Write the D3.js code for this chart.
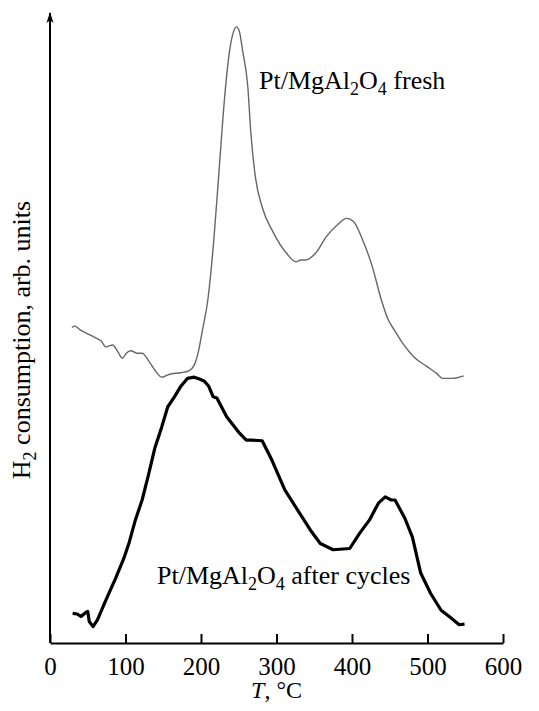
<!DOCTYPE html>
<html>
<head>
<meta charset="utf-8">
<script src="https://cdn.jsdelivr.net/npm/d3@7"></script>
<style>
  body { margin: 0; background: #fff; }
  text { font-family: "Liberation Serif", "Times New Roman", serif; fill: #000; }
</style>
</head>
<body>
<script>
var svgWidth = 539;
var svgHeight = 711;

// temperature (°C) and H2 consumption (arb. units)
var freshT = [29, 33, 40, 48, 61, 68, 74, 83, 90, 96, 101, 107, 115, 122, 130, 139, 148, 155, 160, 173, 184, 191, 197, 202, 209, 217, 224, 231, 238, 243, 247, 251, 255, 262, 266, 272, 281, 296, 313, 326, 332, 338, 352, 366, 380, 393, 402, 414, 427, 439, 448, 456, 467, 482, 499, 512, 520, 533, 548];
var freshH2 = [50.1, 50.3, 49.7, 49.2, 48.4, 47.9, 47.0, 47.3, 46.2, 45.2, 46.0, 46.4, 46.0, 46.0, 44.9, 43.3, 42.2, 42.5, 42.7, 42.9, 43.2, 44.1, 46.5, 49.7, 54.4, 64.0, 75.1, 86.2, 94.1, 97.0, 97.8, 97.0, 94.1, 88.3, 81.0, 74.0, 69.2, 65.1, 61.9, 60.5, 60.8, 60.8, 61.9, 64.5, 66.3, 67.4, 66.9, 64.0, 59.7, 54.4, 51.3, 49.7, 47.6, 45.4, 43.9, 42.8, 42.0, 42.0, 42.4];

var cycT = [30, 36, 41, 47, 50, 52, 57, 63, 74, 87, 98, 105, 113, 122, 130, 139, 148, 156, 165, 173, 182, 191, 198, 204, 210, 216, 221, 234, 251, 260, 268, 281, 294, 311, 328, 345, 358, 375, 397, 410, 423, 435, 444, 452, 457, 470, 480, 491, 504, 518, 530, 542, 549];
var cycH2 = [4.7, 4.6, 4.2, 4.8, 5.0, 3.4, 2.6, 3.7, 6.8, 10.3, 13.5, 16.0, 19.5, 22.7, 26.5, 31.0, 34.3, 37.5, 39.1, 40.7, 42.0, 42.2, 41.9, 41.6, 40.8, 39.1, 38.9, 35.9, 33.3, 32.2, 32.2, 32.1, 29.0, 24.3, 21.1, 17.9, 15.8, 14.8, 15.0, 17.4, 19.5, 22.2, 23.2, 22.7, 22.7, 19.8, 16.8, 11.1, 7.9, 5.2, 4.1, 2.9, 3.0];

var xTicks = [0, 100, 200, 300, 400, 500, 600];

var fresh = freshT.map((t, i) => ({t: t, v: freshH2[i]}));
var cycled = cycT.map((t, i) => ({t: t, v: cycH2[i]}));

var x = d3.scaleLinear().domain([0, 600]).range([50, 503]);
var y = d3.scaleLinear().domain([0, 100]).range([643, 13]);

var svg = d3.select("body").append("svg")
    .attr("width", svgWidth)
    .attr("height", svgHeight);

svg.append("rect").attr("width", svgWidth).attr("height", svgHeight).attr("fill", "#fff");

// arrow for the y axis
svg.append("defs").append("marker")
    .attr("id", "arrow")
    .attr("viewBox", "0 0 10 10")
    .attr("refX", 9).attr("refY", 5)
    .attr("markerWidth", 11).attr("markerHeight", 11)
    .attr("markerUnits", "userSpaceOnUse")
    .attr("orient", "auto")
  .append("path")
    .attr("d", "M0,1.8 L10,5 L0,8.2 L2.5,5 Z")
    .attr("fill", "#000");

svg.append("line")
    .attr("x1", x(0)).attr("y1", y(0))
    .attr("x2", x(0)).attr("y2", y(100))
    .attr("stroke", "#000")
    .attr("stroke-width", 2)
    .attr("marker-end", "url(#arrow)");

// x axis, ticks pointing up
var xAxis = d3.axisBottom(x)
    .tickValues(xTicks)
    .tickFormat(d3.format("d"))
    .tickSizeInner(-9)
    .tickSizeOuter(0)
    .tickPadding(0);

var gx = svg.append("g")
    .attr("transform", `translate(0, ${y(0)})`)
    .call(xAxis);

gx.select(".domain").attr("stroke", "#000").attr("stroke-width", 2.2);
gx.selectAll(".tick line").attr("stroke", "#000").attr("stroke-width", 2);
gx.selectAll(".tick text")
    .attr("y", 32)
    .attr("dy", null)
    .style("font-family", "Liberation Serif, Times New Roman, serif")
    .style("font-size", "25px");

// x title
var xt = svg.append("text")
    .attr("x", x(300))
    .attr("y", 698)
    .attr("text-anchor", "middle")
    .style("font-size", "24px");
xt.append("tspan").style("font-style", "italic").text("T");
xt.append("tspan").text(", °C");

// y title
var yt = svg.append("text")
    .attr("transform", "translate(30, 340) rotate(-90)")
    .attr("text-anchor", "middle")
    .style("font-size", "26px");
yt.append("tspan").text("H");
yt.append("tspan").attr("dy", 6).style("font-size", "18px").text("2");
yt.append("tspan").attr("dy", -6).text(" consumption, arb. units");

// curves
var line = d3.line()
    .x(d => x(d.t))
    .y(d => y(d.v))
    .curve(d3.curveMonotoneX);

svg.append("path")
    .datum(fresh)
    .attr("d", line)
    .attr("fill", "none")
    .attr("stroke", "#666")
    .attr("stroke-width", 1.4)
    .attr("stroke-linejoin", "round");

svg.append("path")
    .datum(cycled)
    .attr("d", line.curve(d3.curveLinear))
    .attr("fill", "none")
    .attr("stroke", "#000")
    .attr("stroke-width", 3.2)
    .attr("stroke-linejoin", "round");

// curve labels
function formula(g, px, py, rest) {
    var t = g.append("text")
        .attr("x", px).attr("y", py)
        .style("font-size", "26px");
    t.append("tspan").text("Pt/MgAl");
    t.append("tspan").attr("dy", 6).style("font-size", "18px").text("2");
    t.append("tspan").attr("dy", -6).text("O");
    t.append("tspan").attr("dy", 6).style("font-size", "18px").text("4");
    t.append("tspan").attr("dy", -6).text(rest);
}

formula(svg, 259, 89, " fresh");
formula(svg, 157, 584, " after cycles");
</script>
</body>
</html>
